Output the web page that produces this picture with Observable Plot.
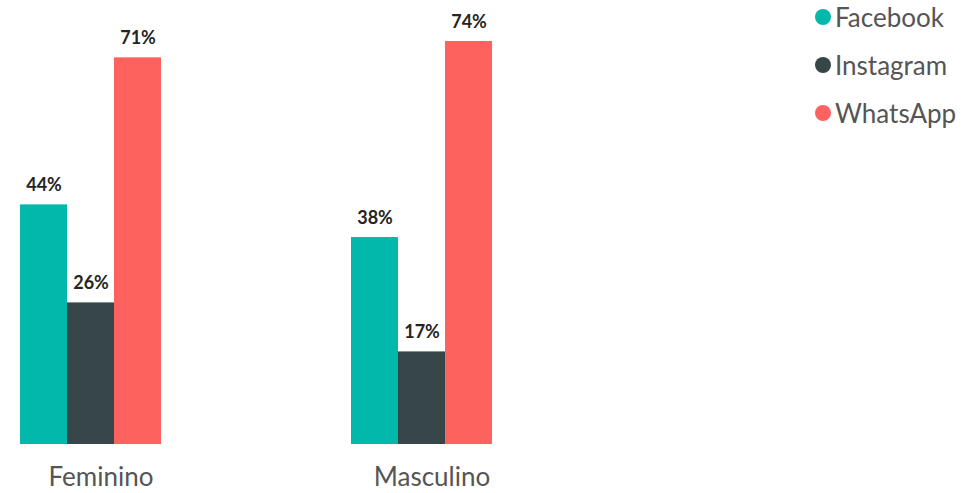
<!DOCTYPE html>
<html>
<head>
<meta charset="utf-8">
<script src="https://cdn.jsdelivr.net/npm/d3@7"></script>
<script src="https://cdn.jsdelivr.net/npm/@observablehq/plot@0.6"></script>
<style>
  body { margin: 0; background: #fff; font-family: Lato, "Open Sans", sans-serif; }
  #wrap { position: relative; width: 979px; height: 493px; overflow: hidden; }
  #legend { position: absolute; left: 815px; top: 0; }
  .item { position: absolute; left: 0; height: 30px; display: flex; align-items: center; white-space: nowrap; }
  .dot { width: 16px; height: 16px; border-radius: 50%; margin-right: 4px; }
  .lab { font-size: 26px; color: #555; font-family: Lato, sans-serif; }
</style>
</head>
<body>
<div id="wrap"><div id="chart"></div><div id="legend"></div></div>
<script>
const genders = ["Feminino", "Masculino"];
const networks = ["Facebook", "Instagram", "WhatsApp"];
const femininoValues = [44, 26, 71];
const masculinoValues = [38, 17, 74];
const colors = ["#01B8AA", "#374649", "#FD625E"];

const data = [];
networks.forEach((n, i) => data.push({gender: "Feminino", network: n, value: femininoValues[i]}));
networks.forEach((n, i) => data.push({gender: "Masculino", network: n, value: masculinoValues[i]}));

const chart = Plot.plot({
  width: 979,
  height: 493,
  marginLeft: 19,
  marginRight: 486,
  marginTop: 41,
  marginBottom: 49,
  style: {fontFamily: "Lato, sans-serif", background: "#fff"},
  fx: {domain: genders, paddingInner: 0.568, paddingOuter: 0, label: null},
  x: {domain: networks, padding: 0, axis: null},
  y: {domain: [0, 74], axis: null},
  color: {domain: networks, range: colors},
  marks: [
    Plot.barY(data, {fx: "gender", x: "network", y: "value", fill: "network"}),
    Plot.text(data, {
      fx: "gender", x: "network", y: "value",
      text: d => d.value + "%",
      lineAnchor: "bottom", dy: -14,
      fontWeight: "bold", fontSize: 18, fill: "#252423"
    }),
    Plot.axisFx({anchor: "bottom", tickSize: 0, tickPadding: 23, fontSize: 26, dx: 10, label: null, color: "#555"})
  ]
});
document.getElementById("chart").appendChild(chart);

const legend = document.getElementById("legend");
networks.forEach((n, i) => {
  const item = document.createElement("div");
  item.className = "item";
  item.style.top = (2 + i * 48) + "px";
  const dot = document.createElement("div");
  dot.className = "dot";
  dot.style.background = colors[i];
  const lab = document.createElement("span");
  lab.className = "lab";
  lab.textContent = n;
  item.appendChild(dot);
  item.appendChild(lab);
  legend.appendChild(item);
});
</script>
</body>
</html>
